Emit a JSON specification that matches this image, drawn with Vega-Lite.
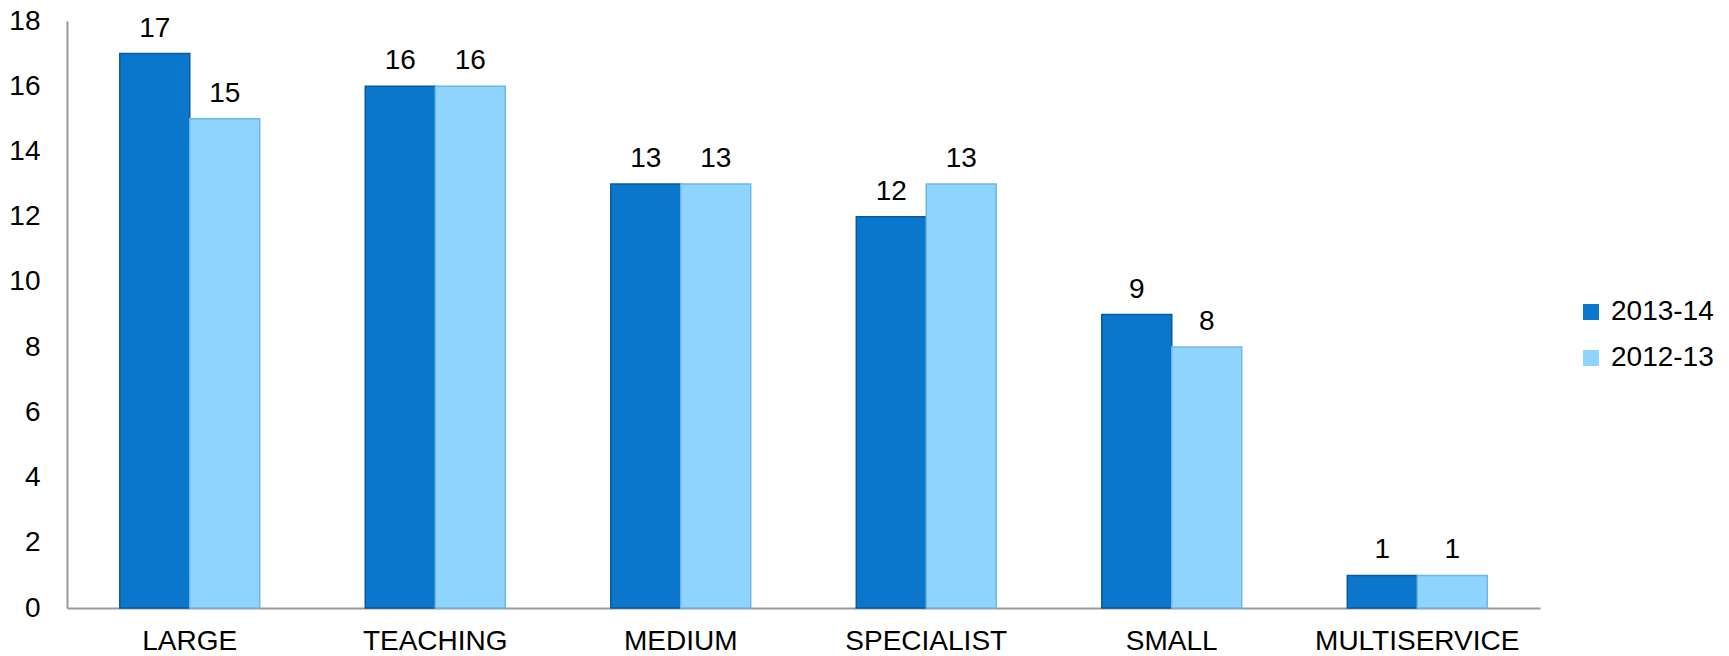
{
  "$schema": "https://vega.github.io/schema/vega-lite/v6.json",
  "autosize": {"type": "none"},
  "width": 1473,
  "height": 587,
  "padding": {"left": 67, "top": 21, "right": 189, "bottom": 48},
  "background": "white",
  "config": {
    "font": "Liberation Sans",
    "view": {"stroke": null}
  },
  "data": {
    "values": [
      {"category": "LARGE", "year": "2013-14", "value": 17},
      {"category": "LARGE", "year": "2012-13", "value": 15},
      {"category": "TEACHING", "year": "2013-14", "value": 16},
      {"category": "TEACHING", "year": "2012-13", "value": 16},
      {"category": "MEDIUM", "year": "2013-14", "value": 13},
      {"category": "MEDIUM", "year": "2012-13", "value": 13},
      {"category": "SPECIALIST", "year": "2013-14", "value": 12},
      {"category": "SPECIALIST", "year": "2012-13", "value": 13},
      {"category": "SMALL", "year": "2013-14", "value": 9},
      {"category": "SMALL", "year": "2012-13", "value": 8},
      {"category": "MULTISERVICE", "year": "2013-14", "value": 1},
      {"category": "MULTISERVICE", "year": "2012-13", "value": 1}
    ]
  },
  "encoding": {
    "x": {
      "field": "category",
      "type": "nominal",
      "sort": ["LARGE", "TEACHING", "MEDIUM", "SPECIALIST", "SMALL", "MULTISERVICE"],
      "scale": {"paddingInner": 0.43, "paddingOuter": 0.215},
      "axis": {
        "title": null,
        "labelAngle": 0,
        "labelFontSize": 28,
        "labelColor": "#000000",
        "labelPadding": 19,
        "labelLimit": 500,
        "ticks": false,
        "domainColor": "#999999",
        "domainWidth": 2
      }
    },
    "xOffset": {
      "field": "year",
      "type": "nominal",
      "sort": ["2013-14", "2012-13"],
      "scale": {"paddingInner": 0, "paddingOuter": 0}
    },
    "y": {
      "field": "value",
      "type": "quantitative",
      "scale": {"domain": [0, 18], "nice": false},
      "axis": {
        "title": null,
        "values": [0, 2, 4, 6, 8, 10, 12, 14, 16, 18],
        "grid": false,
        "ticks": false,
        "labelFontSize": 28,
        "labelColor": "#000000",
        "labelPadding": 27,
        "domainColor": "#999999",
        "domainWidth": 2
      }
    }
  },
  "layer": [
    {
      "mark": {"type": "bar", "strokeWidth": 1.5},
      "encoding": {
        "color": {
          "field": "year",
          "type": "nominal",
          "sort": ["2013-14", "2012-13"],
          "scale": {"domain": ["2013-14", "2012-13"], "range": ["#0A77CD", "#8ED4FE"]},
          "legend": {
            "title": null,
            "orient": "none",
            "legendX": 1510,
            "legendY": 277,
            "symbolType": "square",
            "symbolSize": 256,
            "symbolStrokeWidth": 0,
            "labelFontSize": 28,
            "labelColor": "#000000",
            "labelOffset": 6,
            "rowPadding": 18
          }
        },
        "stroke": {
          "field": "year",
          "type": "nominal",
          "scale": {"domain": ["2013-14", "2012-13"], "range": ["#0A5A9A", "#6EB8E0"]},
          "legend": null
        }
      }
    },
    {
      "mark": {"type": "text", "baseline": "alphabetic", "dy": -17, "fontSize": 28, "color": "#000000"},
      "encoding": {
        "text": {"field": "value", "type": "quantitative"}
      }
    }
  ]
}
